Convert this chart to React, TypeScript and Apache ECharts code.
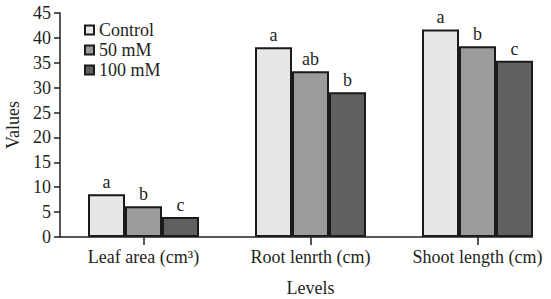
import React, { useEffect, useRef } from "react";
import * as echarts from "echarts";

const categories = ["Leaf area (cm³)", "Root lenrth (cm)", "Shoot length (cm)"];
const seriesNames = ["Control", "50 mM", "100 mM"];
const controlValues = [8.6, 38.1, 41.7];
const mM50Values = [6.2, 33.3, 38.3];
const mM100Values = [4.0, 29.1, 35.4];
const controlLetters = ["a", "a", "a"];
const mM50Letters = ["b", "ab", "b"];
const mM100Letters = ["c", "b", "c"];
const yTicks = { min: 0, max: 45, interval: 5 };

const FONT = "Liberation Serif";
const INK = "#231f20";
const colors = ["#e6e7e9", "#9a9b9d", "#5f6062"];
const BAR_W = 37;
const FS = 18;

export default function App() {
  const ref = useRef<HTMLDivElement>(null);
  useEffect(() => {
    document.body.style.margin = "0";
    if (!ref.current) return;
    const chart = echarts.init(ref.current, null, { renderer: "svg" });
    const values = [controlValues, mM50Values, mM100Values];
    const letters = [controlLetters, mM50Letters, mM100Letters];
    const gridLeft = 60;
    const gridTop = 13;
    const gridBottom = 62;
    chart.setOption({
      animation: false,
      backgroundColor: "#ffffff",
      textStyle: { fontFamily: FONT, color: INK },
      grid: {
        left: gridLeft,
        right: -10,
        top: gridTop,
        bottom: gridBottom,
        containLabel: false,
        outerBoundsMode: "none",
      },
      legend: {
        orient: "vertical",
        left: 79,
        top: 16,
        itemWidth: 9,
        itemHeight: 9,
        itemGap: 2,
        icon: "rect",
        textStyle: { fontFamily: FONT, fontSize: FS, color: INK },
        data: seriesNames,
      },
      xAxis: {
        type: "category",
        data: categories,
        boundaryGap: true,
        name: "Levels",
        nameLocation: "middle",
        nameGap: 42,
        nameTextStyle: { fontFamily: FONT, fontSize: FS, color: INK },
        axisLine: { show: false },
        axisTick: { show: true, alignWithLabel: true, length: 8, lineStyle: { color: INK, width: 1.5 } },
        axisLabel: { fontFamily: FONT, fontSize: FS, color: INK, margin: 11, interval: 0, hideOverlap: false },
        splitLine: { show: false },
      },
      yAxis: {
        type: "value",
        min: yTicks.min,
        max: yTicks.max,
        interval: yTicks.interval,
        name: "Values",
        nameLocation: "middle",
        nameGap: 37,
        nameTextStyle: { fontFamily: FONT, fontSize: FS, color: INK },
        axisLine: { show: true, lineStyle: { color: INK, width: 1.5 } },
        axisTick: { show: true, inside: false, length: 6, lineStyle: { color: INK, width: 1.5 } },
        axisLabel: { fontFamily: FONT, fontSize: FS, color: INK, margin: 9 },
        splitLine: { show: false },
      },
      series: seriesNames.map((name, i) => ({
        name,
        type: "bar",
        barWidth: BAR_W,
        barGap: "0%",
        data: values[i],
        itemStyle: { color: colors[i], borderColor: "#1a1a1a", borderWidth: 2 },
        label: {
          show: true,
          position: "top",
          distance: 3,
          fontFamily: FONT,
          fontSize: FS,
          color: INK,
          formatter: (p: any) => letters[i][p.dataIndex],
        },
      })),
    });
    // x axis line from the y axis to the right edge of the last bar group
    const lastCenter = chart.convertToPixel({ xAxisIndex: 0 }, categories.length - 1) as number;
    const y0 = chart.convertToPixel({ yAxisIndex: 0 }, 0) as number;
    const xEnd = lastCenter + 1.5 * BAR_W;
    chart.setOption({
      graphic: [
        {
          type: "line",
          shape: { x1: gridLeft, y1: y0, x2: xEnd, y2: y0 },
          style: { stroke: INK, lineWidth: 1.5 },
          z: 10,
        },
      ],
    });
    return () => chart.dispose();
  }, []);
  return <div ref={ref} style={{ width: 551, height: 299 }} />;
}
